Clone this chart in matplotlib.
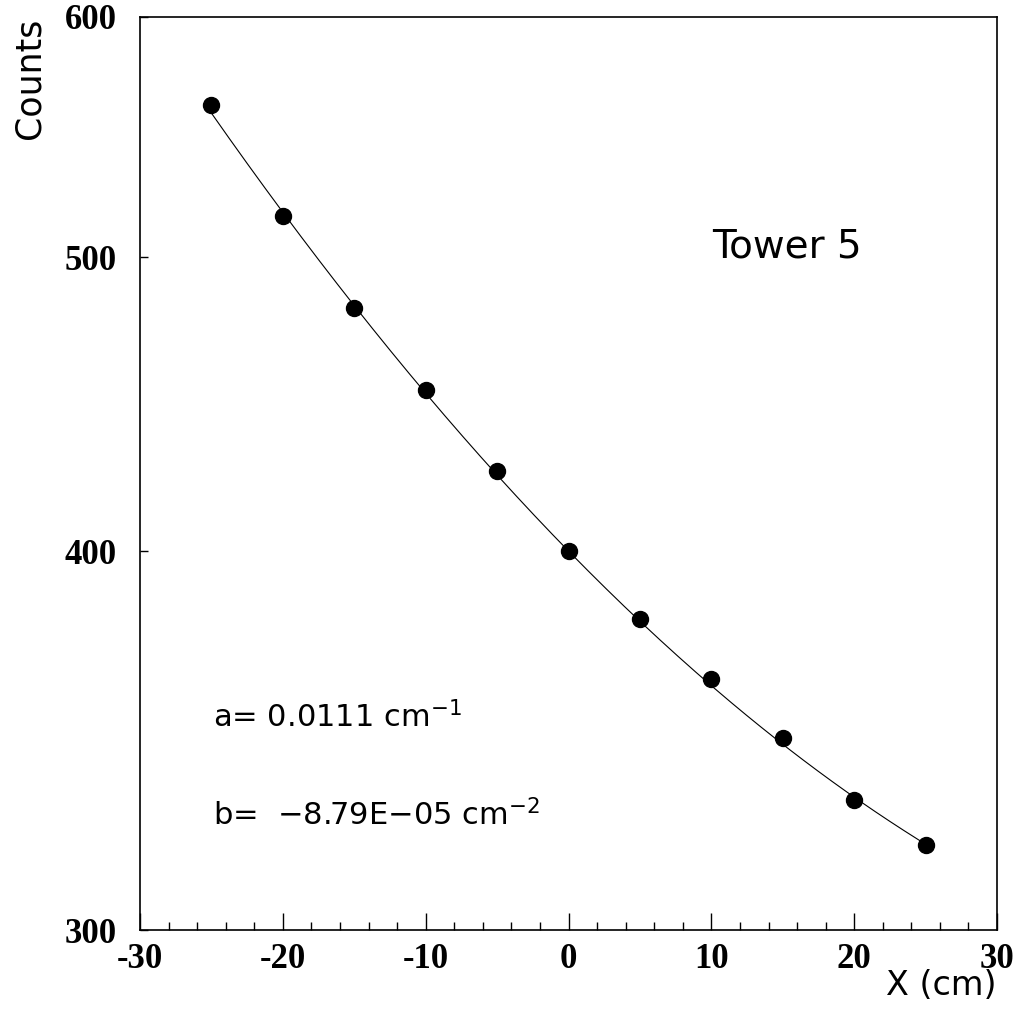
import numpy as np
import matplotlib
matplotlib.use('Agg')
import matplotlib.pyplot as plt
from matplotlib.ticker import FixedLocator, MultipleLocator, NullLocator, FixedFormatter

plt.rcParams['axes.unicode_minus'] = False

# Измеренные точки (Tower 5)
x_pos = [-25, -20, -15, -10, -5, 0, 5, 10, 15, 20, 25]
counts = [561, 516, 481, 452, 425, 400, 380, 363, 347, 331, 320]

# Параметры фита: N = N0 * exp(-a*x - b*x^2)
fit_a = 0.0111
fit_b = -8.79e-05
fit_n0 = 400.0

y_ticks = [300, 400, 500, 600]
y_tick_labels = ['300', '400', '500', '600']

fig = plt.figure(figsize=(10.2, 10.1), dpi=100)
ax = fig.add_axes([0.1373, 0.0792, 0.8402, 0.904])

xf = np.linspace(-25, 25, 200)
yf = fit_n0 * np.exp(-fit_a * xf - fit_b * xf ** 2)
ax.plot(xf, yf, color='black', lw=0.8)
ax.plot(x_pos, counts, 'o', color='black', markersize=11.5)

ax.set_yscale('log')
ax.set_xlim(-30, 30)
ax.set_ylim(300, 600)

ax.yaxis.set_major_locator(FixedLocator(y_ticks))
ax.yaxis.set_major_formatter(FixedFormatter(y_tick_labels))
ax.yaxis.set_minor_locator(NullLocator())
ax.xaxis.set_major_locator(MultipleLocator(10))
ax.xaxis.set_minor_locator(MultipleLocator(2))

ax.tick_params(axis='x', which='major', direction='in', length=12, width=1, pad=9)
ax.tick_params(axis='x', which='minor', direction='in', length=6, width=1)
ax.tick_params(axis='y', which='major', direction='in', length=6, width=1, pad=17)
for lab in ax.get_xticklabels() + ax.get_yticklabels():
    lab.set_fontfamily('Liberation Serif')
    lab.set_fontweight('bold')
    lab.set_fontsize(25)

for sp in ax.spines.values():
    sp.set_linewidth(1.2)

fig.text(0.012, 0.983, 'Counts', rotation=90, ha='left', va='top',
         fontsize=25, family='DejaVu Sans')
fig.text(0.977, 0.008, 'X (cm)', ha='right', va='bottom',
         fontsize=24, family='DejaVu Sans')

ax.text(0.667, 0.737, 'Tower 5', transform=ax.transAxes, fontsize=28,
        family='DejaVu Sans', va='baseline')
ax.text(0.085, 0.222, 'a= 0.0111 cm$^{-1}$', transform=ax.transAxes,
        fontsize=22, family='DejaVu Sans', va='baseline')
ax.text(0.085, 0.115, 'b=  \u22128.79E\u221205 cm$^{-2}$', transform=ax.transAxes,
        fontsize=22, family='DejaVu Sans', va='baseline')

plt.savefig('out.png', dpi=100)
plt.close()
